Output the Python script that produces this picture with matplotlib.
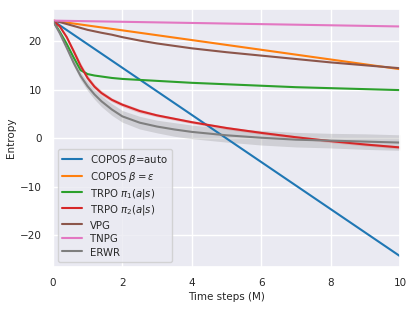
import numpy as np
import matplotlib
matplotlib.use('Agg')
import matplotlib.pyplot as plt
import seaborn as sns

# Time steps (M)
t = [0, 0.2, 0.4, 0.6, 0.8, 1.0, 1.2, 1.4, 1.7, 2, 2.5, 3, 3.5, 4, 5, 6, 7, 8, 9, 10]
t_lin = [0, 10]

copos_auto = [24.2, -24.3]
copos_eps = [24.2, 14.2]
tnpg = [24.2, 23.0]
trpo_pi1 = [24.2, 21.9, 19.4, 16.6, 14.0, 13.2, 12.9, 12.7, 12.4, 12.2, 12.0, 11.8, 11.6, 11.4, 11.1, 10.8, 10.5, 10.3, 10.1, 9.9]
trpo_pi2 = [24.2, 23.0, 20.8, 17.9, 14.9, 12.4, 10.6, 9.3, 7.9, 6.9, 5.6, 4.7, 4.0, 3.3, 2.1, 1.1, 0.2, -0.6, -1.3, -1.9]
trpo_pi2_sd = [0.0, 0.2, 0.3, 0.5, 0.6, 0.6, 0.5, 0.5, 0.4, 0.4, 0.4, 0.3, 0.3, 0.3, 0.3, 0.3, 0.3, 0.3, 0.3, 0.3]
vpg = [24.2, 23.9, 23.5, 23.1, 22.7, 22.3, 22.0, 21.7, 21.3, 20.8, 20.1, 19.5, 19.0, 18.5, 17.7, 17.0, 16.3, 15.6, 15.0, 14.4]
erwr = [24.2, 21.6, 18.6, 15.5, 12.8, 10.7, 9.0, 7.6, 5.9, 4.5, 3.2, 2.4, 1.8, 1.3, 0.6, 0.1, -0.3, -0.5, -0.7, -0.9]
erwr_sd = [0.0, 0.2, 0.4, 0.6, 0.8, 0.9, 1.0, 1.1, 1.2, 1.2, 1.3, 1.3, 1.4, 1.4, 1.4, 1.5, 1.5, 1.5, 1.6, 1.6]

sns.set_theme(style='darkgrid')
plt.rcParams['font.size'] = 7.5

fig = plt.figure(figsize=(4.16, 3.09), dpi=100)
ax = fig.add_axes([0.127, 0.136, 0.835, 0.835])

ax.plot(t_lin, copos_auto, color='tab:blue', lw=1.5, label=r'COPOS $\beta$=auto')
ax.plot(t_lin, copos_eps, color='tab:orange', lw=1.5, label=r'COPOS $\beta=\varepsilon$')
ax.plot(t, trpo_pi1, color='tab:green', lw=1.5, label=r'TRPO $\pi_1(a|s)$')
ax.plot(t, trpo_pi2, color='tab:red', lw=1.5, label=r'TRPO $\pi_2(a|s)$')
lo = np.array(trpo_pi2) - np.array(trpo_pi2_sd)
hi = np.array(trpo_pi2) + np.array(trpo_pi2_sd)
ax.fill_between(t, lo, hi, color='tab:red', alpha=0.2, lw=0)
ax.plot(t, vpg, color='tab:brown', lw=1.5, label='VPG')
ax.plot(t_lin, tnpg, color='tab:pink', lw=1.5, label='TNPG')
ax.plot(t, erwr, color='tab:gray', lw=1.5, label='ERWR')
lo = np.array(erwr) - np.array(erwr_sd)
hi = np.array(erwr) + np.array(erwr_sd)
ax.fill_between(t, lo, hi, color='tab:gray', alpha=0.25, lw=0)

ax.set_xlim(0, 10)
ax.set_ylim(-26.5, 26.6)
ax.set_xticks([0, 2, 4, 6, 8, 10])
ax.set_yticks([-20, -10, 0, 10, 20])
ax.tick_params(labelsize=7.5, pad=2)
ax.set_xlabel('Time steps (M)', fontsize=7.5, labelpad=3)
ax.set_ylabel('Entropy', fontsize=7.5, labelpad=3)
ax.legend(loc='lower left', fontsize=7.3, frameon=True,
          handleheight=1.3, labelspacing=0.25)

fig.savefig('out.png', dpi=100)
